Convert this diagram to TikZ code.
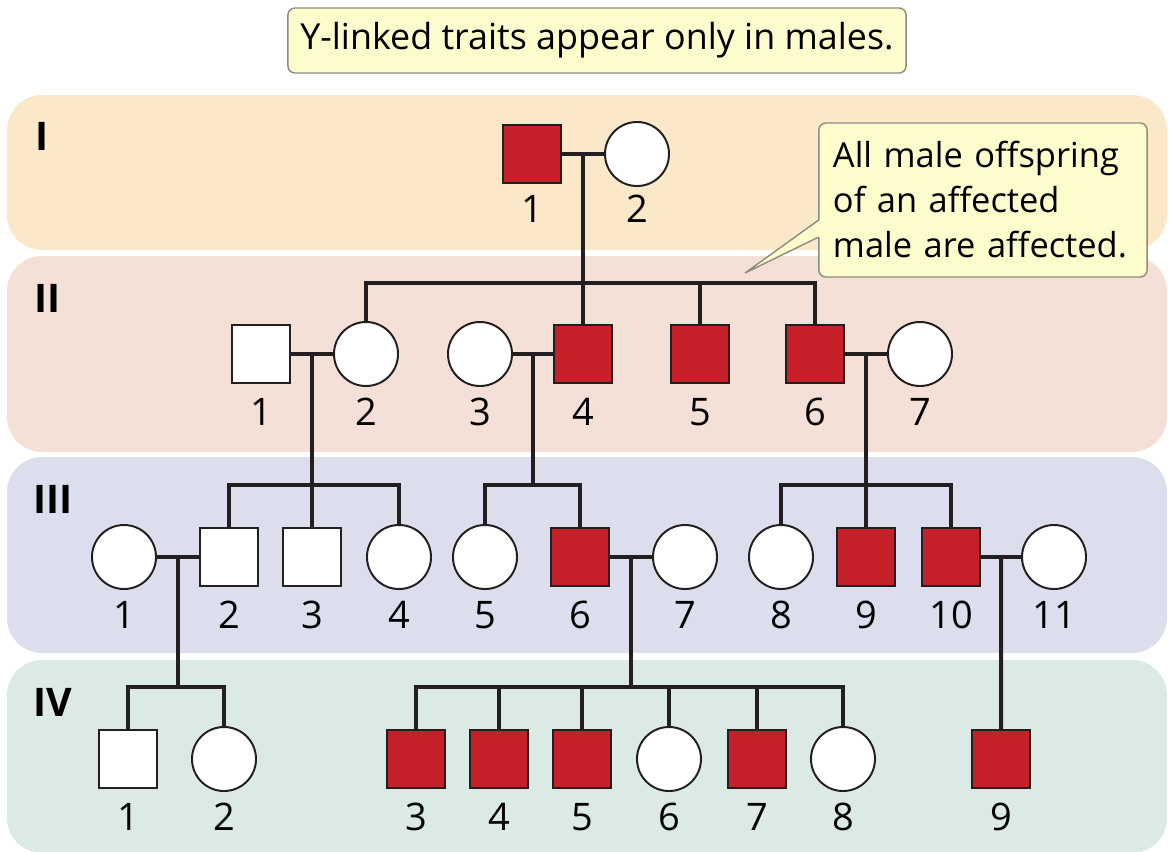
\documentclass[tikz,border=0pt]{standalone}
\usepackage{fontspec}
\setmainfont{Open Sans}
\usetikzlibrary{positioning,calc}
\definecolor{Ink}{HTML}{231F20}
\definecolor{Affected}{HTML}{C62128}
\definecolor{BandOne}{HTML}{FBE8C9}
\definecolor{BandTwo}{HTML}{F5E0D7}
\definecolor{BandThree}{HTML}{DCDEED}
\definecolor{BandFour}{HTML}{DBEAE4}
\definecolor{NoteFill}{HTML}{FEFBCD}
\definecolor{NoteLine}{HTML}{8C8C82}

\begin{document}
\begin{tikzpicture}[
    x=0.025cm,y=-0.025cm,
    every node/.style={font=\fontsize{27}{32}\selectfont},
    band/.style={rounded corners=25pt},
    gen/.style={anchor=north west,inner sep=0pt,font=\fontsize{28}{30}\selectfont\bfseries},
    male/.style={draw=Ink,line width=1.4pt,fill=white,minimum size=1.45cm,inner sep=0pt},
    female/.style={circle,draw=Ink,line width=1.4pt,fill=white,minimum size=1.6cm,inner sep=0pt},
    aff/.style={fill=Affected},
    num/.style={inner sep=0pt},
    link/.style={draw=Ink,line width=2.85pt},
    note/.style={draw=NoteLine,fill=NoteFill,rounded corners=5pt,line width=1pt,font=\fontsize{24.5}{32}\selectfont}
  ]
    \useasboundingbox (0,0) rectangle (1170,851);
    % generation bands
    \fill[BandOne,band] (7,95) rectangle (1167,250);
    \fill[BandTwo,band] (7,256) rectangle (1167,452);
    \fill[BandThree,band] (7,457) rectangle (1167,653);
    \fill[BandFour,band] (7,660) rectangle (1167,853);
    \node[gen] (gI) at (35,122) {I};
    \node[gen] (gII) at (34,284) {II};
    \node[gen] (gIII) at (33,485) {III};
    \node[gen] (gIV) at (33,688) {IV};

    \node[note,minimum width=15.45cm,minimum height=1.625cm,font=\fontsize{25.5}{30}\selectfont] (title) at (597,40.5) {Y-linked traits appear only in males.};

    % generation I
    \node[male,aff] (i1) at (532,154) {};
    \node[female] (i2) at (637,154) {};
    % generation II
    \node[male] (ii1) at (261,354) {};
    \node[female] (ii2) at (366,354) {};
    \node[female] (ii3) at (480,354) {};
    \node[male,aff] (ii4) at (583,354) {};
    \node[male,aff] (ii5) at (700,354) {};
    \node[male,aff] (ii6) at (815,354) {};
    \node[female] (ii7) at (920,354) {};
    % generation III
    \node[female] (iii1) at (124,557) {};
    \node[male] (iii2) at (229,557) {};
    \node[male] (iii3) at (312,557) {};
    \node[female] (iii4) at (399,557) {};
    \node[female] (iii5) at (485,557) {};
    \node[male,aff] (iii6) at (580,557) {};
    \node[female] (iii7) at (685,557) {};
    \node[female] (iii8) at (781,557) {};
    \node[male,aff] (iii9) at (866,557) {};
    \node[male,aff] (iii10) at (951,557) {};
    \node[female] (iii11) at (1054,557) {};
    % generation IV
    \node[male] (iv1) at (128,759) {};
    \node[female] (iv2) at (224,759) {};
    \node[male,aff] (iv3) at (416,759) {};
    \node[male,aff] (iv4) at (499,759) {};
    \node[male,aff] (iv5) at (582,759) {};
    \node[female] (iv6) at (669,759) {};
    \node[male,aff] (iv7) at (757,759) {};
    \node[female] (iv8) at (843,759) {};
    \node[male,aff] (iv9) at (1001,759) {};

    % individual numbers
    \node[num] (i1n) at ($(i1)+(0,55)$) {1};
    \node[num] (i2n) at ($(i2)+(0,55)$) {2};
    \node[num] (ii1n) at ($(ii1)+(0,58)$) {1};
    \node[num] (ii2n) at ($(ii2)+(0,58)$) {2};
    \node[num] (ii3n) at ($(ii3)+(0,58)$) {3};
    \node[num] (ii4n) at ($(ii4)+(0,58)$) {4};
    \node[num] (ii5n) at ($(ii5)+(0,58)$) {5};
    \node[num] (ii6n) at ($(ii6)+(0,58)$) {6};
    \node[num] (ii7n) at ($(ii7)+(0,58)$) {7};
    \node[num] (iii1n) at ($(iii1)+(0,58)$) {1};
    \node[num] (iii2n) at ($(iii2)+(0,58)$) {2};
    \node[num] (iii3n) at ($(iii3)+(0,58)$) {3};
    \node[num] (iii4n) at ($(iii4)+(0,58)$) {4};
    \node[num] (iii5n) at ($(iii5)+(0,58)$) {5};
    \node[num] (iii6n) at ($(iii6)+(0,58)$) {6};
    \node[num] (iii7n) at ($(iii7)+(0,58)$) {7};
    \node[num] (iii8n) at ($(iii8)+(0,58)$) {8};
    \node[num] (iii9n) at ($(iii9)+(0,58)$) {9};
    \node[num] (iii10n) at ($(iii10)+(0,58)$) {10};
    \node[num] (iii11n) at ($(iii11)+(0,58)$) {11};
    \node[num] (iv1n) at ($(iv1)+(0,58)$) {1};
    \node[num] (iv2n) at ($(iv2)+(0,58)$) {2};
    \node[num] (iv3n) at ($(iv3)+(0,58)$) {3};
    \node[num] (iv4n) at ($(iv4)+(0,58)$) {4};
    \node[num] (iv5n) at ($(iv5)+(0,58)$) {5};
    \node[num] (iv6n) at ($(iv6)+(0,58)$) {6};
    \node[num] (iv7n) at ($(iv7)+(0,58)$) {7};
    \node[num] (iv8n) at ($(iv8)+(0,58)$) {8};
    \node[num] (iv9n) at ($(iv9)+(0,58)$) {9};

    % sibship levels
    \coordinate (sibII) at (0,283);
    \coordinate (sibIII) at (0,485);
    \coordinate (sibIV) at (0,687);

    % matings
    \draw[link] (i1) -- (i2);
    \draw[link] (ii1) -- (ii2);
    \draw[link] (ii3) -- (ii4);
    \draw[link] (ii6) -- (ii7);
    \draw[link] (iii1) -- (iii2);
    \draw[link] (iii6) -- (iii7);
    \draw[link] (iii10) -- (iii11);
    \coordinate (m1) at ($(i1.east)!.5!(i2.west)$);
    \coordinate (m2) at ($(ii1.east)!.5!(ii2.west)$);
    \coordinate (m3) at ($(ii3.east)!.5!(ii4.west)$);
    \coordinate (m4) at ($(ii6.east)!.5!(ii7.west)$);
    \coordinate (m5) at ($(iii1.east)!.5!(iii2.west)$);
    \coordinate (m6) at ($(iii6.east)!.5!(iii7.west)$);
    \coordinate (m7) at ($(iii10.east)!.5!(iii11.west)$);

    % descent lines
    \draw[link] (m1) -- (m1 |- sibII);
    \draw[link] (ii2.north) -- (ii2.north |- sibII) -- (ii6.north |- sibII) -- (ii6.north);
    \draw[link] (ii4.north) -- (ii4.north |- sibII);
    \draw[link] (ii5.north) -- (ii5.north |- sibII);

    \draw[link] (m2) -- (m2 |- sibIII);
    \draw[link] (iii2.north) -- (iii2.north |- sibIII) -- (iii4.north |- sibIII) -- (iii4.north);
    \draw[link] (iii3.north) -- (iii3.north |- sibIII);
    \draw[link] (m3) -- (m3 |- sibIII);
    \draw[link] (iii5.north) -- (iii5.north |- sibIII) -- (iii6.north |- sibIII) -- (iii6.north);
    \draw[link] (m4) -- (m4 |- sibIII);
    \draw[link] (iii8.north) -- (iii8.north |- sibIII) -- (iii10.north |- sibIII) -- (iii10.north);
    \draw[link] (iii9.north) -- (iii9.north |- sibIII);

    \draw[link] (m5) -- (m5 |- sibIV);
    \draw[link] (iv1.north) -- (iv1.north |- sibIV) -- (iv2.north |- sibIV) -- (iv2.north);
    \draw[link] (m6) -- (m6 |- sibIV);
    \draw[link] (iv3.north) -- (iv3.north |- sibIV) -- (iv8.north |- sibIV) -- (iv8.north);
    \draw[link] (iv4.north) -- (iv4.north |- sibIV);
    \draw[link] (iv5.north) -- (iv5.north |- sibIV);
    \draw[link] (iv6.north) -- (iv6.north |- sibIV);
    \draw[link] (iv7.north) -- (iv7.north |- sibIV);
    \draw[link] (m7) -- (iv9);

    % callout
    \node[note,text width=7.5cm,align=left,inner xsep=10pt,minimum height=3.85cm] (callout) at (983,200) {All male offspring\\of an affected\\male are affected.};
    \coordinate (tip) at (745,273);
    \fill[NoteFill] ($(callout.west)+(2,20)$) -- (tip) -- ($(callout.west)+(2,37)$) -- cycle;
    \draw[NoteLine,line width=1pt] ($(callout.west)+(0.5,20)$) -- (tip) -- ($(callout.west)+(0.5,37)$);
  \end{tikzpicture}
\end{document}
